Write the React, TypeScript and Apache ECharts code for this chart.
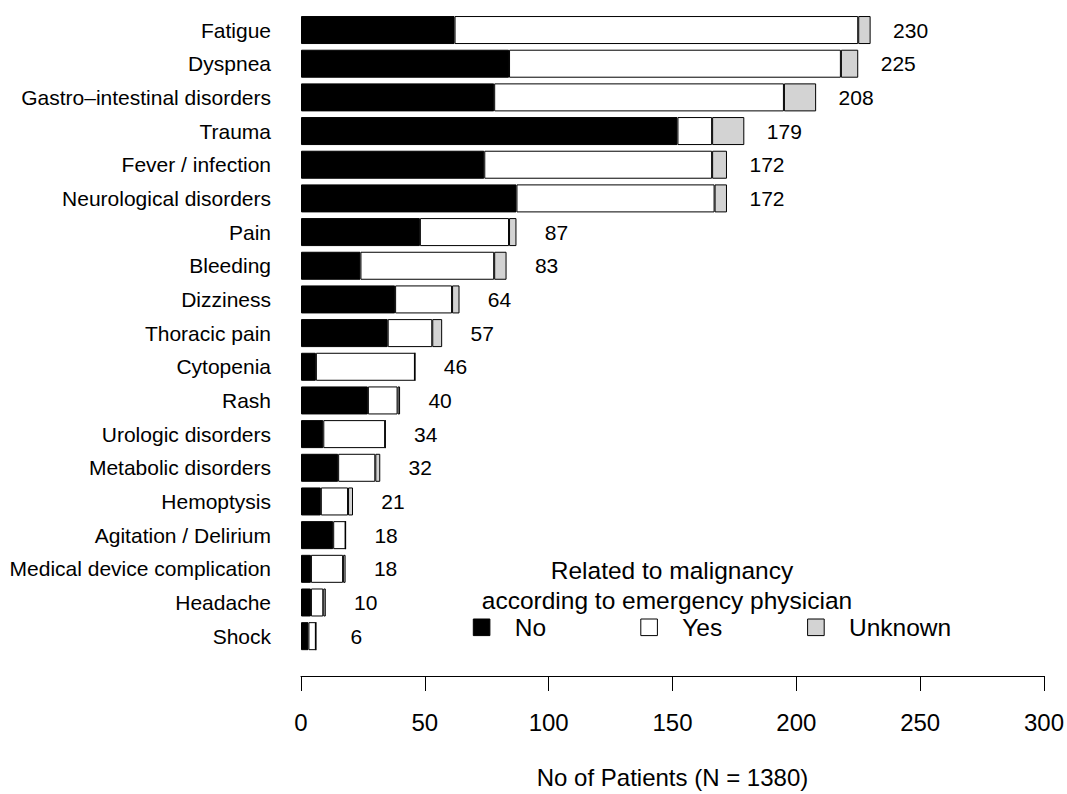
import { useEffect, useRef } from "react";
import * as echarts from "echarts";

// Presenting symptoms, ordered as displayed from top to bottom
const categories = [
  "Fatigue",
  "Dyspnea",
  "Gastro–intestinal disorders",
  "Trauma",
  "Fever / infection",
  "Neurological disorders",
  "Pain",
  "Bleeding",
  "Dizziness",
  "Thoracic pain",
  "Cytopenia",
  "Rash",
  "Urologic disorders",
  "Metabolic disorders",
  "Hemoptysis",
  "Agitation / Delirium",
  "Medical device complication",
  "Headache",
  "Shock",
];

// Related to malignancy according to emergency physician
const noValues = [62, 84, 78, 152, 74, 87, 48, 24, 38, 35, 6, 27, 9, 15, 8, 13, 4, 4, 3];
const yesValues = [163, 134, 117, 14, 92, 80, 36, 54, 23, 18, 40, 12, 25, 15, 11, 5, 13, 5, 3];
const unknownValues = [5, 7, 13, 13, 6, 5, 3, 5, 3, 4, 0, 1, 0, 2, 2, 0, 1, 1, 0];

const xTicks = { min: 0, max: 300, interval: 50 };

const groupNames = ["No", "Yes", "Unknown"];
const groupColors = ["#000000", "#ffffff", "#d3d3d3"];

const FONT = "'Liberation Sans', Arial, Helvetica, sans-serif";

export default function App() {
  const ref = useRef<HTMLDivElement>(null);

  useEffect(() => {
    document.body.style.margin = "0";
    if (!ref.current) return;
    const chart = echarts.init(ref.current, null, { renderer: "svg" });

    const totals = categories.map((_, i) => noValues[i] + yesValues[i] + unknownValues[i]);
    const groups = [noValues, yesValues, unknownValues];

    const barSeries = groups.map((vals, g) => {
      const isLast = g === groups.length - 1;
      return {
        name: groupNames[g],
        type: "bar",
        stack: "total",
        barWidth: 28,
        data: vals,
        itemStyle: { color: groupColors[g], borderColor: "#000", borderWidth: 1 },
        emphasis: { disabled: true },
        // the outermost segment carries the row total, centred a fixed gap past the bar end
        label: isLast
          ? {
              show: true,
              position: "right",
              distance: 40,
              align: "center",
              verticalAlign: "middle",
              formatter: (p: any) => String(totals[p.dataIndex]),
              color: "#000",
              fontSize: 21,
              fontFamily: FONT,
            }
          : { show: false },
      };
    });

    // Legend drawn as boxes + text
    const LEGEND_FONT = 24.5;
    const legendX = [473.3, 640.8, 807.6];
    const legendY = 619;
    const box = 16.6;
    const legendGraphics: any[] = [];
    groupNames.forEach((name, g) => {
      legendGraphics.push({
        type: "rect",
        shape: { x: legendX[g], y: legendY, width: box, height: box },
        style: { fill: groupColors[g], stroke: "#000", lineWidth: 1 },
        silent: true,
      });
      legendGraphics.push({
        type: "text",
        x: legendX[g] + box + 24.8,
        y: legendY + box / 2 + 0.5,
        style: {
          text: name,
          fontSize: LEGEND_FONT,
          fontFamily: FONT,
          fill: "#000",
          align: "left",
          verticalAlign: "middle",
        },
        silent: true,
      });
    });
    legendGraphics.push({
      type: "text",
      x: 672,
      y: 570,
      style: {
        text: "Related to malignancy",
        fontSize: LEGEND_FONT,
        fontFamily: FONT,
        fill: "#000",
        align: "center",
        verticalAlign: "middle",
      },
      silent: true,
    });
    legendGraphics.push({
      type: "text",
      x: 667,
      y: 600,
      style: {
        text: "according to emergency physician",
        fontSize: LEGEND_FONT,
        fontFamily: FONT,
        fill: "#000",
        align: "center",
        verticalAlign: "middle",
      },
      silent: true,
    });

    chart.setOption({
      animation: false,
      textStyle: { fontFamily: FONT },
      grid: { left: 301, right: 22.5, top: 13.2, bottom: 140.9, containLabel: false },
      xAxis: {
        type: "value",
        min: xTicks.min,
        max: xTicks.max,
        interval: xTicks.interval,
        offset: 23,
        axisLine: { show: true, lineStyle: { color: "#000", width: 1 } },
        axisTick: { show: true, length: 15, lineStyle: { color: "#000", width: 1 } },
        axisLabel: { color: "#000", fontSize: 24, margin: 34, fontFamily: FONT },
        splitLine: { show: false },
        name: "No of Patients (N = 1380)",
        nameLocation: "middle",
        nameGap: 89,
        nameTextStyle: { color: "#000", fontSize: 24, fontFamily: FONT },
      },
      yAxis: {
        type: "category",
        data: categories,
        inverse: true,
        axisLine: { show: false },
        axisTick: { show: false },
        splitLine: { show: false },
        axisLabel: { color: "#000", fontSize: 21, margin: 30, fontFamily: FONT },
      },
      series: barSeries,
      graphic: legendGraphics,
    });

    return () => chart.dispose();
  }, []);

  return <div ref={ref} style={{ width: 1067, height: 794 }} />;
}
